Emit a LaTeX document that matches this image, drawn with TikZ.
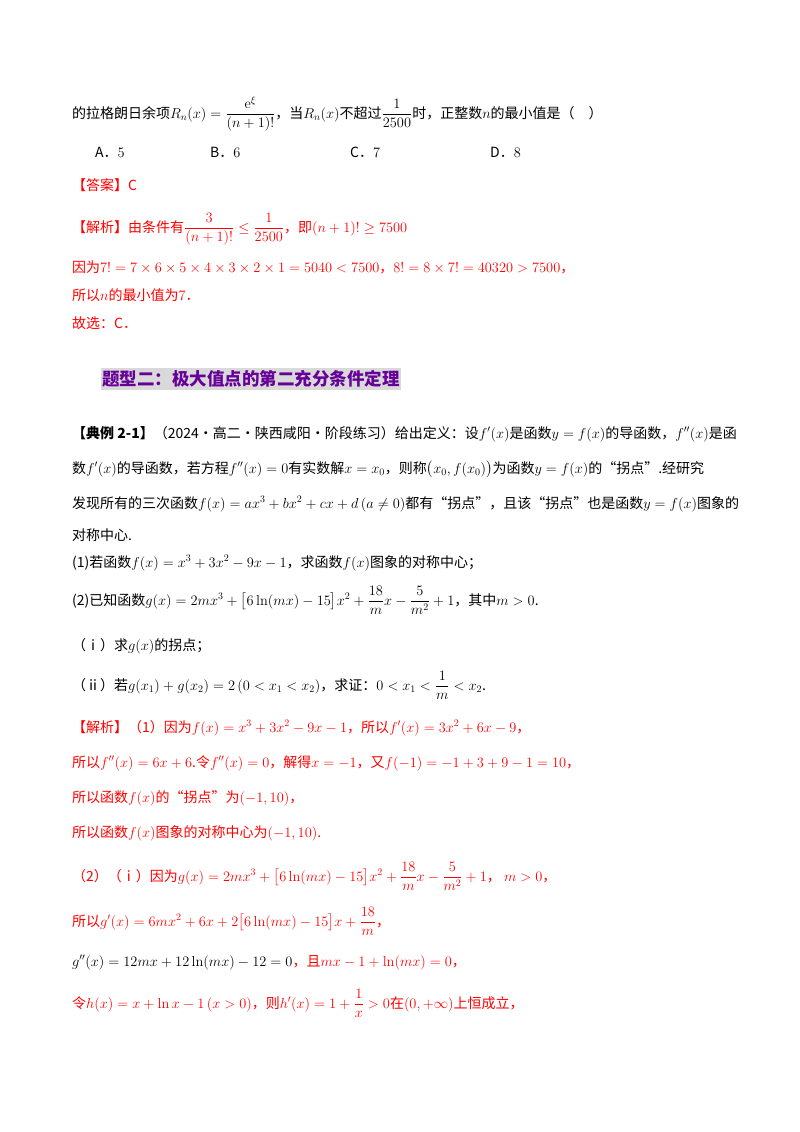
\documentclass[tikz,border=0pt]{standalone}
\usepackage[no-math]{fontspec}
\usepackage{amsmath,amssymb}
\setmainfont{Noto Sans CJK SC}
\begin{document}
\begin{tikzpicture}[x=1pt,y=-1pt,
  t/.style={anchor=base west,inner sep=0,font=\fontsize{14}{17}\selectfont},
  r/.style={t,text=red}]
\useasboundingbox[fill=white] (0,0) rectangle (800,1132);
\node[t] (l1) at (72,118) {的拉格朗日余项$R_n(x)=\dfrac{\mathrm{e}^{\xi}}{(n+1)!}$，当$R_n(x)$不超过$\dfrac{1}{2500}$时，正整数$n$的最小值是（\quad ）};
\node[t] (oa) at (95,157) {A．$5$};
\node[t] (ob) at (210,157) {B．$6$};
\node[t] (oc) at (350,157) {C．$7$};
\node[t] (od) at (490,157) {D．$8$};
\node[r] (ans) at (72,190) {【答案】C};
\node[r] (j1) at (72,232) {【解析】由条件有$\dfrac{3}{(n+1)!}\le\dfrac{1}{2500}$，即$(n+1)!\ge 7500$};
\node[r] (j2) at (72,272) {因为$7!=7\times6\times5\times4\times3\times2\times1=5040<7500$，$8!=8\times7!=40320>7500$，};
\node[r] (j3) at (72,300) {所以$n$的最小值为$7$．};
\node[r] (j4) at (72,328) {故选：C．};
\node[fill=black!15,inner xsep=1pt,inner ysep=3pt,anchor=west,text=violet!80!blue,font=\fontsize{17.5}{20}\selectfont\bfseries] (h) at (101,379) {题型二：极大值点的第二充分条件定理};
\node[t] (e1) at (72,438) {\textbf{【典例 2-1】}（2024·高二·陕西咸阳·阶段练习）给出定义：设$f'(x)$是函数$y=f(x)$的导函数，$f''(x)$是函};
\node[t] (e2) at (72,473) {数$f'(x)$的导函数，若方程$f''(x)=0$有实数解$x=x_0$，则称$\big(x_0,f(x_0)\big)$为函数$y=f(x)$的“拐点”.经研究};
\node[t] (e3) at (72,508) {发现所有的三次函数$f(x)=ax^3+bx^2+cx+d\,(a\ne0)$都有“拐点”，且该“拐点”也是函数$y=f(x)$图象的};
\node[t] (e4) at (72,540) {对称中心.};
\node[t] (e5) at (72,567) {(1)若函数$f(x)=x^3+3x^2-9x-1$，求函数$f(x)$图象的对称中心；};
\node[t] (e6) at (72,605) {(2)已知函数$g(x)=2mx^3+\big[6\ln(mx)-15\big]x^2+\dfrac{18}{m}x-\dfrac{5}{m^2}+1$，其中$m>0$.};
\node[t] (e7) at (72,650) {（ⅰ）求$g(x)$的拐点；};
\node[t] (e8) at (72,690) {（ⅱ）若$g(x_1)+g(x_2)=2\,(0<x_1<x_2)$，求证：$0<x_1<\dfrac{1}{m}<x_2$.};
\node[r] (s1) at (72,732) {【解析】（1）因为$f(x)=x^3+3x^2-9x-1$，所以$f'(x)=3x^2+6x-9$，};
\node[r] (s2) at (72,767) {所以$f''(x)=6x+6$.令$f''(x)=0$，解得$x=-1$，又$f(-1)=-1+3+9-1=10$，};
\node[r] (s3) at (72,802) {所以函数$f(x)$的“拐点”为$(-1,10)$，};
\node[r] (s4) at (72,837) {所以函数$f(x)$图象的对称中心为$(-1,10)$.};
\node[r] (s5) at (72,881) {（2）（ⅰ）因为$g(x)=2mx^3+\big[6\ln(mx)-15\big]x^2+\dfrac{18}{m}x-\dfrac{5}{m^2}+1$，\ $m>0$，};
\node[r] (s6) at (72,926) {所以$g'(x)=6mx^2+6x+2\big[6\ln(mx)-15\big]x+\dfrac{18}{m}$，};
\node[r] (s7) at (72,966) {\textcolor{black}{$g''(x)=12mx+12\ln(mx)-12=0$}，且$mx-1+\ln(mx)=0$，};
\node[r] (s8) at (72,1008) {令$h(x)=x+\ln x-1\,(x>0)$，则$h'(x)=1+\dfrac{1}{x}>0$在$(0,+\infty)$上恒成立，};
\end{tikzpicture}
\end{document}
